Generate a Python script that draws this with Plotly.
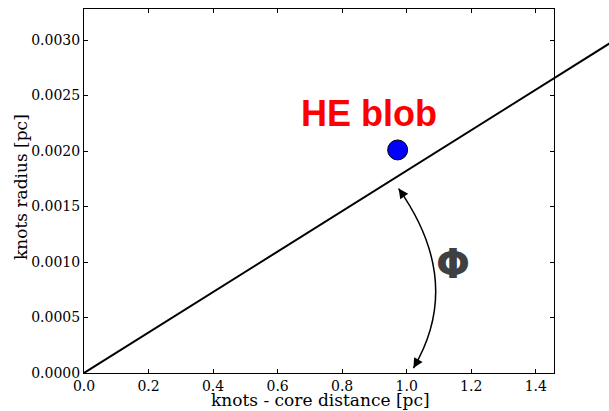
import plotly.graph_objects as go

# data
line_x = [0.0, 1.7]
line_y = [0.0, 0.0031]
blob_x = [0.972]
blob_y = [0.00201]
label_text = "HE blob"
label_x = 0.883
label_y = 0.00234
phi_text = "Φ"
phi_x = 1.145
phi_y = 0.00098
arc_start = (0.975, 0.001662)
arc_ctrl = (1.179, 0.00082)
arc_end = (1.021, 0.0000449)
x_ticks = [0.0, 0.2, 0.4, 0.6, 0.8, 1.0, 1.2, 1.4]
y_ticks = [0.0, 0.0005, 0.0010, 0.0015, 0.0020, 0.0025, 0.0030]
x_range = [0.0, 1.455]
y_range = [0.0, 0.00328]
x_title = "knots - core distance [pc]"
y_title = "knots radius [pc]"

W, H = 609, 411
ml, mr, mt, mb = 84, 0, 9, 38
dom_end = 469.5 / (W - ml - mr)

serif = "DejaVu Serif"
fig = go.Figure()

fig.add_trace(go.Scatter(x=line_x, y=line_y, mode="lines",
                         line=dict(color="black", width=2),
                         xaxis="x2", yaxis="y", showlegend=False, hoverinfo="skip"))
fig.add_trace(go.Scatter(x=blob_x, y=blob_y, mode="markers",
                         marker=dict(color="#0000ff", size=20, line=dict(color="black", width=1)),
                         showlegend=False))

fig.add_shape(type="path", xref="x", yref="y",
              path=f"M {arc_start[0]},{arc_start[1]} Q {arc_ctrl[0]},{arc_ctrl[1]} {arc_end[0]},{arc_end[1]}",
              line=dict(color="black", width=1.5))

# arrow heads
fig.add_annotation(x=arc_start[0], y=arc_start[1], xref="x", yref="y", ax=6, ay=8.5,
                   showarrow=True, arrowhead=2, arrowsize=1.3, arrowwidth=1.5, arrowcolor="black", text="")
fig.add_annotation(x=arc_end[0], y=arc_end[1], xref="x", yref="y", ax=5, ay=-8.6,
                   showarrow=True, arrowhead=2, arrowsize=1.3, arrowwidth=1.5, arrowcolor="black", text="")

fig.add_annotation(x=label_x, y=label_y, xref="x", yref="y", text=f"<b>{label_text}</b>",
                   showarrow=False, font=dict(family="Liberation Sans", size=36, color="red"))
fig.add_annotation(x=phi_x, y=phi_y, xref="x", yref="y", text=f"<b>{phi_text}</b>",
                   showarrow=False, font=dict(family="DejaVu Sans", size=40, color="#404040"))

# axis titles (screen coords converted to paper)
pw, ph = W - ml - mr, H - mt - mb
fig.add_annotation(x=(320 - ml) / pw, y=(H - mb - 411) / ph, xref="paper", yref="paper",
                   text=x_title, showarrow=False, xanchor="center", yanchor="bottom",
                   borderpad=0, font=dict(family=serif, size=17, color="black"))
fig.add_annotation(x=(20.5 - ml) / pw, y=(H - mb - 187.5) / ph,
                   xref="paper", yref="paper", text=y_title, textangle=-90,
                   showarrow=False, xanchor="center", yanchor="middle",
                   font=dict(family=serif, size=17, color="black"))

axis_common = dict(showgrid=False, zeroline=False, showline=True, linecolor="black", linewidth=1,
                   mirror="ticks", ticks="inside", ticklen=4, tickcolor="black", tickwidth=1,
                   automargin=False,
                   tickfont=dict(family=serif, size=14, color="black"))

fig.update_layout(
    width=W, height=H,
    margin=dict(l=ml, r=mr, t=mt, b=mb),
    paper_bgcolor="white", plot_bgcolor="rgba(0,0,0,0)",
    xaxis=dict(range=x_range, domain=[0, dom_end], tickvals=x_ticks, tickformat=".1f",
               **axis_common),
    yaxis=dict(range=y_range, tickvals=y_ticks, tickformat=".4f",
               **axis_common),
    xaxis2=dict(range=[x_range[0], x_range[1] / dom_end], domain=[0, 1], anchor="y",
                visible=False, showgrid=False, zeroline=False, automargin=False),
)

fig.write_html("out.html", config={"displayModeBar": False},
               post_script="document.body.style.margin='0';document.body.style.overflow='hidden';")
